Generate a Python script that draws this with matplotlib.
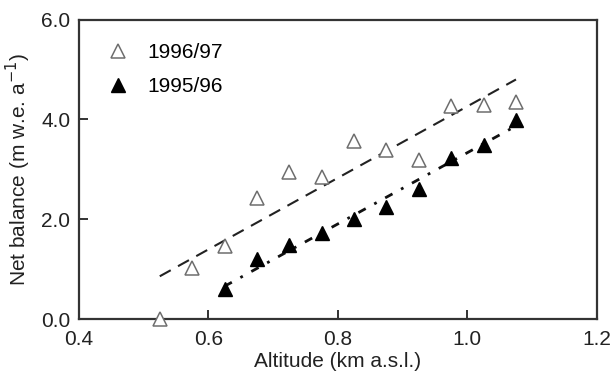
import matplotlib.pyplot as plt

plt.rcParams['font.family'] = ['Liberation Sans', 'DejaVu Sans']

alt = [0.525, 0.575, 0.625, 0.675, 0.725, 0.775, 0.825, 0.875, 0.925, 0.975, 1.025, 1.075]
bal_9697 = [0.0, 1.03, 1.46, 2.42, 2.94, 2.84, 3.56, 3.39, 3.18, 4.26, 4.29, 4.34]

alt_9596 = [0.625, 0.675, 0.725, 0.775, 0.825, 0.875, 0.925, 0.975, 1.025, 1.075]
bal_9596 = [0.60, 1.20, 1.48, 1.73, 2.00, 2.24, 2.61, 3.23, 3.49, 3.98]

# fitted lines, endpoints
fit_9697_x = [0.525, 1.075]
fit_9697_y = [0.86, 4.80]
fit_9596_x = [0.625, 1.075]
fit_9596_y = [0.66, 3.87]

fig = plt.figure(figsize=(6.11, 3.76), dpi=100)
ax = fig.add_axes([0.129, 0.151, 0.848, 0.797])

ax.plot(fit_9697_x, fit_9697_y, color='#222222', lw=1.5, linestyle=(0, (6, 4)))
ax.plot(fit_9596_x, fit_9596_y, color='#111111', lw=2.0, linestyle=(0, (3, 3.5, 1, 3.5)))

ax.plot(alt, bal_9697, linestyle='none', marker='^', ms=10, mfc='white',
        mec='#6e6e6e', mew=1.1, label='1996/97', clip_on=False, zorder=3)
ax.plot(alt_9596, bal_9596, linestyle='none', marker='^', ms=10, mfc='black',
        mec='black', label='1995/96', clip_on=False, zorder=3)

ax.set_xlim(0.4, 1.2)
ax.set_ylim(0.0, 6.0)
ax.set_xticks([0.4, 0.6, 0.8, 1.0, 1.2])
ax.set_xticklabels(['0.4', '0.6', '0.8', '1.0', '1.2'])
ax.set_yticks([0.0, 2.0, 4.0, 6.0])
ax.set_yticklabels(['0.0', '2.0', '4.0', '6.0'])
ax.tick_params(direction='in', length=6.5, width=1.3, labelsize=15, colors='#222222', pad=6)
ax.tick_params(axis='x', pad=8)

for s in ax.spines.values():
    s.set_linewidth(1.6)
    s.set_color('#333333')

ax.set_xlabel('Altitude (km a.s.l.)', fontsize=15, color='#222222', labelpad=2)
ax.set_ylabel('Net balance (m w.e. a$^{-1}$)', fontsize=15, color='#222222', labelpad=6)

ax.legend(loc='upper left', bbox_to_anchor=(0.02, 0.985), frameon=False, fontsize=15,
          labelspacing=0.75, handletextpad=0.9, handlelength=1.0)

fig.savefig('out.png', dpi=100)
